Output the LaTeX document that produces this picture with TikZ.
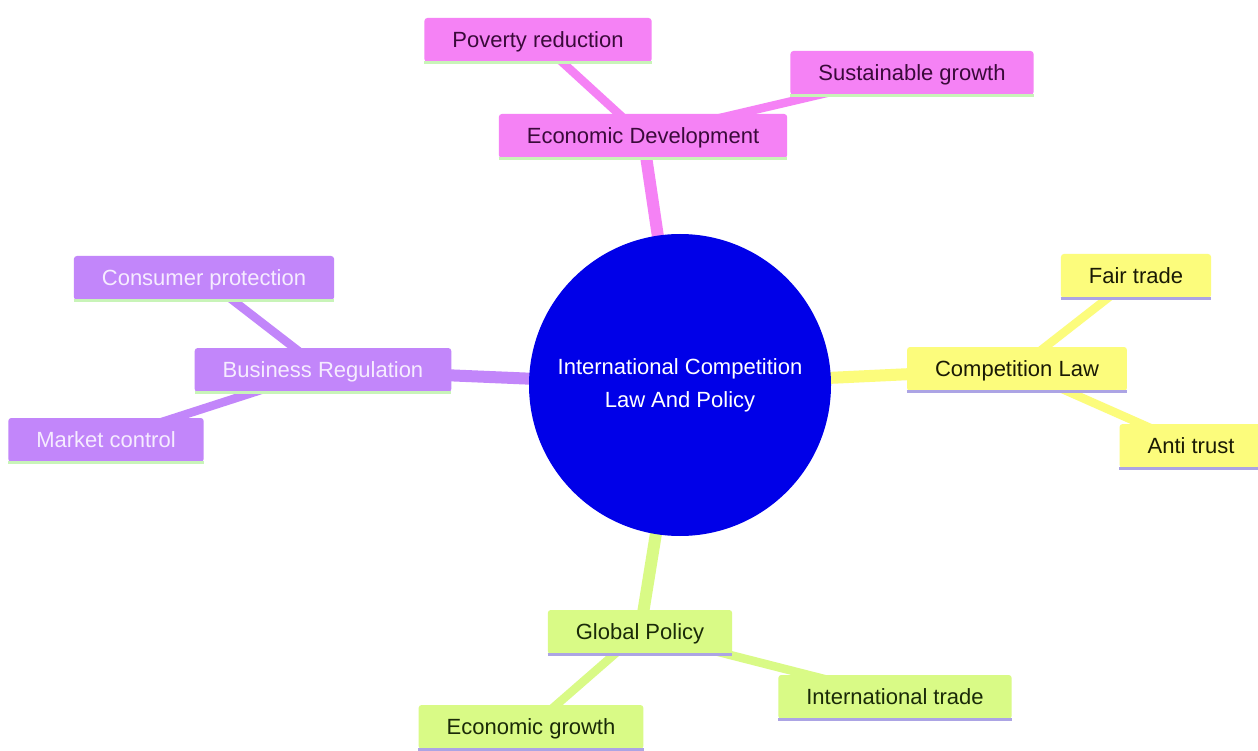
\documentclass[tikz,border=0pt]{standalone}
\usepackage{fontspec}
\setmainfont{Liberation Sans}
\usetikzlibrary{backgrounds}
\definecolor{pinkf}{HTML}{F582F5}
\definecolor{pinkt}{HTML}{3A0A3A}
\definecolor{purpf}{HTML}{C286FA}
\definecolor{purpt}{HTML}{F6ECFF}
\definecolor{yelf}{HTML}{FCFC7C}
\definecolor{yelt}{HTML}{1A1A05}
\definecolor{grnf}{HTML}{D9FA86}
\definecolor{grnt}{HTML}{1A2A08}
\definecolor{rootf}{HTML}{0000E8}
\definecolor{botgrn}{HTML}{C8F4B8}
\definecolor{botlav}{HTML}{ACA4E4}
\tikzset{
  mm/.style={rectangle, rounded corners=3pt, minimum height=44pt, inner xsep=28pt,
    inner ysep=0pt, text height=17.5pt, text depth=2.5pt,
    font=\fontsize{22}{26}\selectfont},
  pinknode/.style={mm, fill=pinkf, text=pinkt},
  purpnode/.style={mm, fill=purpf, text=purpt},
  yelnode/.style={mm, fill=yelf, text=yelt},
  grnnode/.style={mm, fill=grnf, text=grnt},
  rootnode/.style={circle, fill=rootf, text=white, minimum size=302pt, inner sep=0pt,
    align=center, font=\fontsize{22}{33}\selectfont},
  edgeA/.style={line width=12pt},
  edgeB/.style={line width=8.5pt},
  botline/.style={line width=3pt}
}
\begin{document}
\begin{tikzpicture}[x=1pt,y=-1pt]
\useasboundingbox (0,0) rectangle (1258,751);

\node[rootnode] (root) at (680,385) {International Competition\\Law And Policy};

\node[pinknode] (ed) at (643,136) {Economic Development};
\node[pinknode] (pov) at (538,40) {Poverty reduction};
\node[pinknode] (sus) at (912,73) {Sustainable growth};

\node[purpnode] (br) at (323,370) {Business Regulation};
\node[purpnode] (cp) at (204,278) {Consumer protection};
\node[purpnode] (mc) at (106,440) {Market control};

\node[yelnode] (cl) at (1017,369) {Competition Law};
\node[yelnode] (ft) at (1136,276) {Fair trade};
\node[yelnode] (at) at (1191,446) {Anti trust};

\node[grnnode] (gp) at (640,632) {Global Policy};
\node[grnnode] (it) at (895,697) {International trade};
\node[grnnode] (eg) at (531,727) {Economic growth};

\begin{scope}[on background layer]
  \fill[white] (0,0) rectangle (1258,751);
  \draw[edgeA, pinkf] (root.center) -- (ed.center);
  \draw[edgeB, pinkf] (ed.center) -- (pov.center);
  \draw[edgeB, pinkf] (ed.center) -- (sus.center);
  \draw[edgeA, purpf] (root.center) -- (br.center);
  \draw[edgeB, purpf] (br.center) -- (cp.center);
  \draw[edgeB, purpf] (br.center) -- (mc.center);
  \draw[edgeA, yelf] (root.center) -- (cl.center);
  \draw[edgeB, yelf] (cl.center) -- (ft.center);
  \draw[edgeB, yelf] (cl.center) -- (at.center);
  \draw[edgeA, grnf] (root.center) -- (gp.center);
  \draw[edgeB, grnf] (gp.center) -- (it.center);
  \draw[edgeB, grnf] (gp.center) -- (eg.center);
\end{scope}

\foreach \n in {ed,pov,sus,br,cp,mc}
  \draw[botline, botgrn] (\n.south west) -- (\n.south east);
\foreach \n in {cl,ft,at,gp,it,eg}
  \draw[botline, botlav] (\n.south west) -- (\n.south east);
\end{tikzpicture}
\end{document}
